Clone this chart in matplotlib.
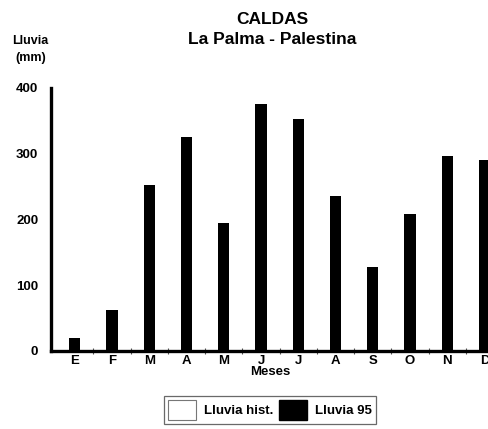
import numpy as np
import matplotlib.pyplot as plt
from matplotlib.patches import Patch

# Monthly rainfall (mm), 1995 series
meses = ["E", "F", "M", "A", "M", "J", "J", "A", "S", "O", "N", "D"]
lluvia_95 = [20, 63, 252, 325, 195, 376, 353, 235, 127, 208, 296, 290]
y_ticks = [0, 100, 200, 300, 400]

plt.rcParams['font.family'] = ['Liberation Sans', 'DejaVu Sans']
plt.rcParams['font.weight'] = 'bold'

fig = plt.figure(figsize=(4.89, 4.29), dpi=100)
ax = fig.add_axes([0.104, 0.182, 0.896, 0.613])

x = np.arange(len(meses))
ax.bar(x, lluvia_95, width=0.3, color='black', zorder=3)

ax.set_xlim(-0.64, 11.12)
ax.set_ylim(0, 400)
ax.set_yticks(y_ticks)
ax.set_yticklabels([str(v) for v in y_ticks], fontsize=9.5, fontweight='bold')
ax.set_xticks(x)
ax.set_xticklabels(meses, fontsize=9.5, fontweight='bold')
ax.set_xticks(x[:-1] + 0.5, minor=True)
ax.tick_params(axis='x', which='major', length=0, pad=3)
ax.tick_params(axis='x', which='minor', length=4, width=0.8,
               direction='inout', color='#555555')
ax.tick_params(axis='y', which='major', length=0, pad=9)

for side in ['top', 'right']:
    ax.spines[side].set_visible(False)
for side in ['left', 'bottom']:
    ax.spines[side].set_linewidth(2.4)

ax.set_xlabel("Meses", fontsize=9.5, fontweight='bold', labelpad=-1)

fig.text(0.556, 0.955, "CALDAS", ha='center', va='center',
         fontsize=12.5, fontweight='bold')
fig.text(0.556, 0.907, "La Palma - Palestina", ha='center', va='center',
         fontsize=12.5, fontweight='bold')
fig.text(0.062, 0.885, "Lluvia\n(mm)", ha='center', va='center',
         fontsize=9, fontweight='bold', linespacing=1.5)

handles = [
    Patch(facecolor='white', edgecolor='#777777', linewidth=0.8,
          label='Lluvia hist.'),
    Patch(facecolor='black', edgecolor='black', label='Lluvia 95'),
]
leg = fig.legend(handles=handles, loc='center', bbox_to_anchor=(0.552, 0.044),
                 ncol=2, fancybox=False, frameon=True,
                 handlelength=2.1, handleheight=2.0, handletextpad=0.6,
                 columnspacing=0.5, borderpad=0.3,
                 prop={'weight': 'bold', 'size': 9.5})
leg.get_frame().set_edgecolor('#444444')
leg.get_frame().set_linewidth(0.9)

fig.savefig("out.png", dpi=100)
